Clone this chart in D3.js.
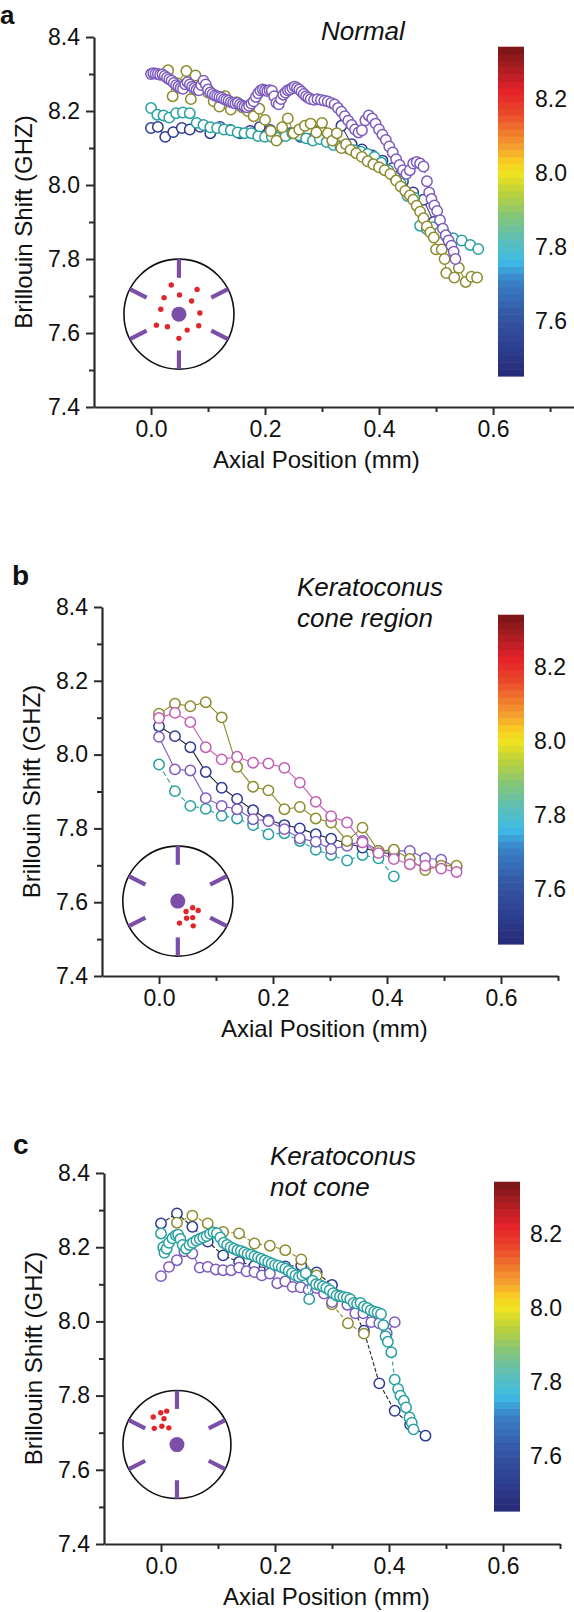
<!DOCTYPE html>
<html><head><meta charset="utf-8">
<script src="https://cdn.jsdelivr.net/npm/d3@7"></script>
<style>
body{margin:0;background:#fff}
svg{display:block}
text{font-family:Arial,"Liberation Sans",Helvetica,sans-serif;fill:#111}
</style>
</head><body>
<svg id="chart" width="574" height="1612"></svg>
<script>
// ---------------- DATA ----------------
const xMajorTicks = [0.0, 0.2, 0.4, 0.6];
const xMinorTicks = [0.1, 0.3, 0.5, 0.7];
const yMajorTicks = [7.4, 7.6, 7.8, 8.0, 8.2, 8.4];
const yMinorTicks = [7.5, 7.7, 7.9, 8.1, 8.3];
const colorbarTicks = [7.6, 7.8, 8.0, 8.2];
const colorbarDomain = [7.45, 8.34];
const colorbarStopValues = [7.45, 7.53, 7.62, 7.71, 7.76, 7.82, 7.88, 7.94, 8.00, 8.03, 8.07, 8.11, 8.16, 8.22, 8.29, 8.34];
const colorbarStopColors = ['#262a76','#2e3f90','#3558a6','#3a82c8','#3ebbe6','#5ebfb8','#82c47c','#b6d040','#f0e41e','#f8cc22','#f5a030','#f07a2e','#ea4a2a','#e6232a','#a41c20','#761616'];

const panelTitles = { a: ['Normal'], b: ['Keratoconus', 'cone region'], c: ['Keratoconus', 'not cone'] };
const xAxisTitle = 'Axial Position (mm)';
const yAxisTitle = 'Brillouin Shift (GHZ)';

// Panel a: Normal
const normalNavy = [[0.000,8.154],[0.012,8.157],[0.025,8.130],[0.039,8.143],[0.054,8.154],[0.068,8.150],[0.086,8.157],[0.104,8.140],[0.121,8.157],[0.139,8.149],[0.156,8.140],[0.174,8.146],[0.191,8.157],[0.209,8.149],[0.226,8.135],[0.244,8.140],[0.262,8.130],[0.280,8.124],[0.298,8.150],[0.316,8.132],[0.334,8.160],[0.352,8.110],[0.370,8.096],[0.388,8.080],[0.406,8.066],[0.424,8.046],[0.442,8.010],[0.460,7.980],[0.478,7.960],[0.496,7.900],[0.514,7.870]];
const normalTeal = [[0.000,8.208],[0.011,8.190],[0.022,8.188],[0.032,8.182],[0.044,8.194],[0.056,8.196],[0.068,8.194],[0.080,8.168],[0.092,8.162],[0.104,8.156],[0.116,8.154],[0.128,8.150],[0.140,8.148],[0.152,8.142],[0.164,8.140],[0.176,8.140],[0.188,8.132],[0.200,8.130],[0.212,8.130],[0.224,8.128],[0.236,8.132],[0.248,8.140],[0.260,8.134],[0.272,8.126],[0.284,8.120],[0.296,8.124],[0.308,8.116],[0.320,8.108],[0.332,8.104],[0.344,8.100],[0.356,8.094],[0.368,8.090],[0.380,8.084],[0.392,8.076],[0.404,8.060],[0.416,8.040],[0.428,8.020],[0.438,8.004],[0.450,7.970],[0.462,7.966],[0.472,7.890],[0.484,7.880],[0.494,7.886],[0.506,7.872],[0.518,7.860],[0.530,7.856],[0.545,7.850],[0.560,7.838],[0.574,7.827]];
const normalOlive = [[0.030,8.310],[0.038,8.240],[0.046,8.275],[0.062,8.308],[0.070,8.232],[0.078,8.296],[0.090,8.262],[0.100,8.250],[0.110,8.226],[0.120,8.212],[0.130,8.240],[0.140,8.204],[0.150,8.224],[0.160,8.210],[0.170,8.200],[0.180,8.186],[0.190,8.206],[0.200,8.176],[0.210,8.146],[0.220,8.120],[0.230,8.156],[0.240,8.180],[0.250,8.140],[0.260,8.150],[0.270,8.160],[0.280,8.166],[0.290,8.142],[0.300,8.168],[0.310,8.140],[0.318,8.120],[0.326,8.140],[0.334,8.100],[0.342,8.110],[0.350,8.095],[0.360,8.086],[0.370,8.076],[0.380,8.064],[0.390,8.056],[0.400,8.048],[0.410,8.040],[0.420,8.030],[0.430,8.012],[0.438,7.996],[0.446,7.984],[0.454,7.972],[0.460,7.960],[0.466,7.944],[0.472,7.928],[0.478,7.910],[0.484,7.888],[0.490,7.872],[0.496,7.858],[0.500,7.826],[0.510,7.826],[0.515,7.800],[0.518,7.762],[0.532,7.750],[0.540,7.776],[0.552,7.738],[0.562,7.752],[0.572,7.750]];
const normalPurple = [[0.000,8.300],[0.004,8.302],[0.008,8.301],[0.012,8.300],[0.016,8.298],[0.020,8.299],[0.024,8.295],[0.028,8.290],[0.032,8.286],[0.036,8.282],[0.040,8.276],[0.044,8.270],[0.048,8.266],[0.052,8.262],[0.056,8.260],[0.060,8.272],[0.064,8.278],[0.068,8.272],[0.072,8.266],[0.076,8.262],[0.080,8.258],[0.084,8.256],[0.088,8.270],[0.092,8.282],[0.096,8.272],[0.100,8.258],[0.104,8.250],[0.108,8.246],[0.112,8.242],[0.116,8.240],[0.120,8.238],[0.124,8.236],[0.128,8.232],[0.132,8.230],[0.136,8.228],[0.140,8.224],[0.144,8.222],[0.148,8.220],[0.152,8.222],[0.156,8.218],[0.160,8.214],[0.164,8.212],[0.168,8.210],[0.172,8.214],[0.176,8.220],[0.180,8.226],[0.184,8.238],[0.188,8.248],[0.192,8.255],[0.196,8.258],[0.200,8.256],[0.204,8.254],[0.208,8.256],[0.212,8.255],[0.216,8.240],[0.220,8.222],[0.224,8.218],[0.228,8.232],[0.232,8.244],[0.236,8.250],[0.240,8.256],[0.244,8.258],[0.248,8.262],[0.252,8.266],[0.256,8.262],[0.260,8.258],[0.264,8.252],[0.268,8.246],[0.272,8.240],[0.276,8.236],[0.280,8.232],[0.286,8.230],[0.292,8.232],[0.298,8.230],[0.304,8.228],[0.310,8.226],[0.316,8.222],[0.322,8.218],[0.328,8.208],[0.334,8.198],[0.340,8.186],[0.346,8.174],[0.352,8.162],[0.358,8.150],[0.364,8.142],[0.370,8.148],[0.376,8.175],[0.382,8.188],[0.388,8.180],[0.394,8.166],[0.400,8.150],[0.406,8.136],[0.412,8.122],[0.418,8.104],[0.424,8.088],[0.430,8.070],[0.436,8.054],[0.442,8.040],[0.448,8.030],[0.454,8.040],[0.460,8.058],[0.466,8.062],[0.472,8.058],[0.478,8.050],[0.484,8.010],[0.488,7.980],[0.492,7.962],[0.497,7.945],[0.502,7.930],[0.507,7.905],[0.512,7.882],[0.517,7.864],[0.522,7.850],[0.527,7.836],[0.531,7.820],[0.534,7.800]];

// Panel b: Keratoconus cone region
const coneX = [0.000,0.028,0.055,0.082,0.110,0.137,0.165,0.192,0.220,0.247,0.275,0.302,0.330,0.357,0.385,0.412,0.440,0.467,0.495,0.522];
const coneTealY = [7.973,7.901,7.861,7.853,7.834,7.827,7.809,7.784,7.787,7.766,7.742,7.728,7.713,7.728,7.719,7.670];
const coneNavyY = [8.077,8.050,8.020,7.953,7.910,7.880,7.849,7.823,7.809,7.800,7.784,7.772,7.760,7.748,7.736,7.730];
const conePurpleY = [8.048,7.960,7.957,7.882,7.861,7.852,7.825,7.820,7.798,7.773,7.764,7.744,7.753,7.766,7.739,7.739,7.739,7.719,7.715,7.694];
const coneOliveY = [8.111,8.138,8.131,8.142,8.101,7.967,7.913,7.903,7.852,7.858,7.827,7.816,7.766,7.802,7.739,7.742,7.717,7.687,7.699,7.699];
const conePinkY = [8.099,8.113,8.088,8.020,7.987,7.994,7.978,7.976,7.964,7.924,7.872,7.833,7.816,7.762,7.733,7.717,7.703,7.699,7.691,7.682];

// Panel c: Keratoconus not cone
const notConeNavy = [[0.000,8.264],[0.028,8.291],[0.055,8.255],[0.082,8.215],[0.109,8.178],[0.137,8.160],[0.164,8.150],[0.191,8.142],[0.218,8.148],[0.246,8.151],[0.273,8.132],[0.300,8.098],[0.328,8.062],[0.356,7.975],[0.383,7.833],[0.410,7.759],[0.437,7.722],[0.464,7.692]];
const notConeOlive = [[0.028,8.266],[0.055,8.285],[0.082,8.264],[0.109,8.241],[0.137,8.237],[0.164,8.210],[0.191,8.204],[0.218,8.192],[0.246,8.167],[0.273,8.124],[0.300,8.046],[0.328,7.995],[0.356,7.967]];
const notConePurple = [[0.000,8.122],[0.014,8.147],[0.028,8.165],[0.041,8.189],[0.055,8.183],[0.068,8.145],[0.082,8.147],[0.096,8.140],[0.109,8.138],[0.123,8.138],[0.137,8.145],[0.150,8.135],[0.164,8.133],[0.177,8.124],[0.191,8.129],[0.204,8.103],[0.218,8.108],[0.231,8.093],[0.245,8.092],[0.259,8.085],[0.273,8.090],[0.286,8.075],[0.300,8.052],[0.314,8.068],[0.327,8.045],[0.341,8.022],[0.355,8.022],[0.369,7.998],[0.383,7.995],[0.396,7.968],[0.410,7.998]];
const notConeTeal = [[0.000,8.237],[0.004,8.200],[0.006,8.185],[0.010,8.196],[0.014,8.212],[0.020,8.224],[0.026,8.232],[0.030,8.234],[0.034,8.222],[0.038,8.206],[0.044,8.196],[0.050,8.206],[0.056,8.212],[0.062,8.218],[0.068,8.222],[0.074,8.226],[0.080,8.230],[0.086,8.236],[0.092,8.240],[0.098,8.238],[0.104,8.226],[0.110,8.212],[0.116,8.206],[0.122,8.200],[0.128,8.196],[0.134,8.192],[0.140,8.190],[0.146,8.186],[0.152,8.182],[0.158,8.180],[0.164,8.176],[0.170,8.172],[0.176,8.168],[0.182,8.164],[0.188,8.160],[0.194,8.156],[0.200,8.152],[0.206,8.150],[0.212,8.146],[0.218,8.142],[0.224,8.136],[0.230,8.130],[0.236,8.124],[0.242,8.120],[0.248,8.124],[0.254,8.130],[0.260,8.060],[0.266,8.110],[0.272,8.100],[0.278,8.098],[0.284,8.094],[0.290,8.090],[0.296,8.084],[0.302,8.076],[0.308,8.070],[0.314,8.068],[0.320,8.066],[0.326,8.064],[0.332,8.060],[0.338,8.050],[0.344,8.048],[0.350,8.050],[0.356,8.040],[0.362,8.036],[0.368,8.030],[0.374,8.026],[0.380,8.024],[0.386,8.020],[0.390,7.990],[0.394,7.960],[0.398,7.945],[0.404,7.917],[0.410,7.843],[0.416,7.818],[0.420,7.800],[0.426,7.786],[0.430,7.768],[0.436,7.741],[0.440,7.727],[0.443,7.709]];

// Measurement spots in the cornea schematics (fractions of the schematic radius)
const spotsNormal = [[-0.14,-0.53],[0.33,-0.45],[-0.27,-0.30],[0.01,-0.35],[0.23,-0.24],[-0.33,-0.09],[0.38,-0.02],[-0.41,0.20],[-0.21,0.23],[0.15,0.29],[0.36,0.21],[0.00,0.44]];
const spotsCone = [[0.15,0.19],[0.27,0.12],[0.37,0.17],[0.16,0.31],[0.27,0.30],[0.03,0.40],[0.28,0.45]];
const spotsNotCone = [[-0.44,-0.51],[-0.30,-0.59],[-0.19,-0.62],[-0.24,-0.48],[-0.42,-0.30],[-0.28,-0.34],[-0.15,-0.31]];

// ---------------- STYLE ----------------
const COL = { purple:'#7d5bbd', olive:'#8d8b2c', teal:'#27a0a0', navy:'#2c3a94', pink:'#c35cb6' };
const zip = (xs, ys) => ys.map((v, i) => [xs[i], v]);

const panels = [
  { letter:'a', lx:0, ly:24, lsize:26, title:panelTitles.a, tx:321, ty:40,
    xDomain:[-0.1,0.742], xRange:[94,574], yRange:[407,37],
    cb:{x:498, top:47}, cbLabelX:535, inset:{cx:0.049, cy:7.651, r:55}, spots:spotsNormal,
    series:[
      {d:normalNavy, c:COL.navy, dash:null},
      {d:normalTeal, c:COL.teal, dash:'3,2'},
      {d:normalOlive, c:COL.olive, dash:null},
      {d:normalPurple, c:COL.purple, dash:'3,2'} ] },
  { letter:'b', lx:12, ly:585, lsize:28, title:panelTitles.b, tx:297, ty:596,
    xDomain:[-0.1,0.7], xRange:[102,558], yRange:[976,607],
    cb:{x:498, top:615}, cbLabelX:534, inset:{cx:0.033, cy:7.603, r:55}, spots:spotsCone,
    series:[
      {d:zip(coneX, coneTealY), c:COL.teal, dash:'5,3'},
      {d:zip(coneX, coneNavyY), c:COL.navy, dash:null, lineC:'#222'},
      {d:zip(coneX, conePurpleY), c:COL.purple, dash:null},
      {d:zip(coneX, coneOliveY), c:COL.olive, dash:null},
      {d:zip(coneX, conePinkY), c:COL.pink, dash:null} ] },
  { letter:'c', lx:13, ly:1154, lsize:28, title:panelTitles.c, tx:270, ty:1165,
    xDomain:[-0.1,0.7], xRange:[104,560], yRange:[1544,1173],
    cb:{x:494, top:1182}, cbLabelX:530, inset:{cx:0.028, cy:7.668, r:54}, spots:spotsNotCone,
    series:[
      {d:notConeNavy, c:COL.navy, dash:'4,2', lineC:'#222'},
      {d:notConeOlive, c:COL.olive, dash:'4,2'},
      {d:notConePurple, c:COL.purple, dash:null},
      {d:notConeTeal, c:COL.teal, dash:'4,3'} ] }
];

const svg = d3.select('#chart');
const cbColor = d3.scaleLinear().domain(colorbarStopValues).range(colorbarStopColors).interpolate(d3.interpolateRgb);

panels.forEach(p => {
  const g = svg.append('g');
  const x = d3.scaleLinear().domain(p.xDomain).range(p.xRange);
  const y = d3.scaleLinear().domain([7.4, 8.4]).range(p.yRange);

  // panel letter
  g.append('text').attr('x', p.lx).attr('y', p.ly).attr('font-size', p.lsize).attr('font-weight', 'bold').text(p.letter);
  // title
  p.title.forEach((t, i) => g.append('text').attr('x', p.tx).attr('y', p.ty + i * 31)
    .attr('font-size', 26).attr('font-style', 'italic').text(t));

  // axes
  const axisColor = '#2a2a2a';
  g.append('g').attr('transform', `translate(${p.xRange[0]},0)`)
    .call(d3.axisLeft(y).tickValues(yMajorTicks).tickSize(8).tickSizeOuter(0).tickPadding(6).tickFormat(d3.format('.1f')));
  g.append('g').attr('transform', `translate(${p.xRange[0]},0)`)
    .call(d3.axisLeft(y).tickValues(yMinorTicks).tickSize(5).tickSizeOuter(0).tickFormat(''))
    .select('.domain').remove();
  g.append('g').attr('transform', `translate(0,${p.yRange[0]})`)
    .call(d3.axisBottom(x).tickValues(xMajorTicks).tickSize(8).tickSizeOuter(0).tickPadding(6).tickFormat(d3.format('.1f')));
  g.append('g').attr('transform', `translate(0,${p.yRange[0]})`)
    .call(d3.axisBottom(x).tickValues(xMinorTicks).tickSize(5).tickSizeOuter(0).tickFormat(''))
    .select('.domain').remove();
  g.selectAll('.domain').attr('stroke', axisColor).attr('stroke-width', 2.2);
  g.selectAll('.tick line').attr('stroke', axisColor).attr('stroke-width', 2);
  g.selectAll('.tick text').attr('font-size', 23).attr('fill', '#111')
    .attr('font-family', 'Arial, "Liberation Sans", sans-serif');

  // axis titles
  const ymid = (p.yRange[0] + p.yRange[1]) / 2;
  g.append('text').attr('transform', `translate(${p.xRange[0] - 62},${ymid}) rotate(-90)`)
    .attr('text-anchor', 'middle').attr('font-size', 24).text(yAxisTitle);
  g.append('text').attr('x', x(0.29)).attr('y', p.yRange[0] + 61)
    .attr('text-anchor', 'middle').attr('font-size', 24).text(xAxisTitle);

  // colorbar
  const cbScale = d3.scaleLinear().domain(colorbarDomain)
    .range([p.cb.top + (colorbarDomain[1] - colorbarDomain[0]) * 370, p.cb.top]);
  const nBands = 48;
  const bandVals = d3.range(nBands).map(i => colorbarDomain[0] + (i + 0.5) * (colorbarDomain[1] - colorbarDomain[0]) / nBands);
  const bandH = (cbScale(colorbarDomain[0]) - cbScale(colorbarDomain[1])) / nBands;
  g.append('g').selectAll('rect').data(bandVals).join('rect')
    .attr('x', p.cb.x).attr('width', 26)
    .attr('y', d => cbScale(d) - bandH / 2 - 0.3).attr('height', bandH + 0.6)
    .attr('fill', d => cbColor(d));
  g.append('g').selectAll('text').data(colorbarTicks).join('text')
    .attr('x', p.cbLabelX).attr('y', d => cbScale(d)).attr('dy', '0.35em')
    .attr('font-size', 23).text(d => d.toFixed(1));

  // series
  const line = d3.line().x(d => x(d[0])).y(d => y(d[1]));
  p.series.forEach(s => {
    g.append('path').datum(s.d).attr('d', line).attr('fill', 'none')
      .attr('stroke', s.lineC || s.c).attr('stroke-width', 1.1)
      .attr('stroke-dasharray', s.dash);
    g.append('g').selectAll('circle').data(s.d).join('circle')
      .attr('cx', d => x(d[0])).attr('cy', d => y(d[1])).attr('r', 5.2)
      .attr('fill', '#fff').attr('stroke', s.c).attr('stroke-width', 1.5);
  });

  // cornea schematic inset
  const cx = x(p.inset.cx), cy = y(p.inset.cy), r = p.inset.r;
  const ins = g.append('g');
  ins.append('circle').attr('cx', cx).attr('cy', cy).attr('r', r)
    .attr('fill', 'none').attr('stroke', '#111').attr('stroke-width', 1.6);
  const spokeAngles = [90, 270, 27, 153, 207, 333];
  ins.selectAll('line').data(spokeAngles).join('line')
    .attr('x1', a => cx + Math.cos(a * Math.PI / 180) * (r * 0.66))
    .attr('y1', a => cy - Math.sin(a * Math.PI / 180) * (r * 0.66))
    .attr('x2', a => cx + Math.cos(a * Math.PI / 180) * r)
    .attr('y2', a => cy - Math.sin(a * Math.PI / 180) * r)
    .attr('stroke', '#7b4fa8').attr('stroke-width', 4.2);
  ins.append('circle').attr('cx', cx).attr('cy', cy).attr('r', 7.5).attr('fill', '#7b4fa8');
  ins.selectAll('.spot').data(p.spots).join('circle').attr('class', 'spot')
    .attr('cx', d => cx + d[0] * r).attr('cy', d => cy + d[1] * r).attr('r', 2.7).attr('fill', '#e0262a');
});
</script>
</body></html>
